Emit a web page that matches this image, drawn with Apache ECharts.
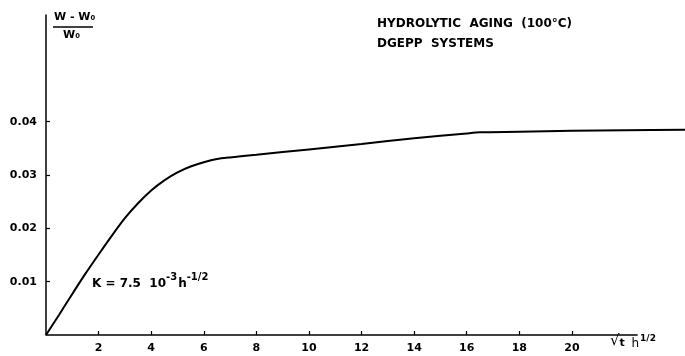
<!DOCTYPE html>
<html><head><meta charset="utf-8">
<script src="https://cdn.jsdelivr.net/npm/echarts@6/dist/echarts.min.js"></script>
<style>html,body{margin:0;padding:0;background:#fff}#c{width:685px;height:356px}</style>
</head><body><div id="c"></div>
<script>
// data
const xValues = [0, 0.5, 1, 1.5, 2, 2.5, 3, 3.5, 4, 4.5, 5, 5.5, 6, 6.5, 7, 8, 10, 12, 14, 16, 16.5, 18, 20, 22, 24.3];
const yValues = [0, 0.0038, 0.0077, 0.0115, 0.0151, 0.0186, 0.0219, 0.0247, 0.0271, 0.0290, 0.0305, 0.0316, 0.0324, 0.0330, 0.0333, 0.0338, 0.0348, 0.0358, 0.0369, 0.0378, 0.0380, 0.0381, 0.0383, 0.0384, 0.0385];
const xTicks = [2, 4, 6, 8, 10, 12, 14, 16, 18, 20];
const yTicks = [0.01, 0.02, 0.03, 0.04];
const xAxisEnd = 22.5;
const titleLines = ['HYDROLYTIC  AGING  (100°C)', 'DGEPP  SYSTEMS'];

const FONT = 'DejaVu Sans';
const chart = echarts.init(document.getElementById('c'), null, {renderer: 'canvas'});
chart.setOption({
  animation: false,
  backgroundColor: '#fff',
  grid: {left: 46, top: 15, right: 0, bottom: 21, containLabel: false},
  xAxis: {
    type: 'value', min: 0, max: 24.3,
    splitLine: {show: false},
    axisLine: {show: false},
    axisTick: {inside: true, length: 4, lineStyle: {color: '#000', width: 1.2}, customValues: xTicks},
    axisLabel: {customValues: xTicks, color: '#000', fontFamily: FONT, fontWeight: 'bold', fontSize: 11, margin: 8}
  },
  yAxis: {
    type: 'value', min: 0, max: 0.06,
    splitLine: {show: false},
    axisLine: {lineStyle: {color: '#000', width: 1.5}},
    axisTick: {inside: true, length: 4, lineStyle: {color: '#000', width: 1.2}, customValues: yTicks},
    axisLabel: {customValues: yTicks, color: '#000', fontFamily: FONT, fontWeight: 'bold', fontSize: 11, margin: 9,
      formatter: v => v.toFixed(2)}
  },
  series: [{
    type: 'line',
    data: xValues.map((x, i) => [x, yValues[i]]),
    showSymbol: false,
    smooth: 0.25,
    clip: false,
    lineStyle: {color: '#000', width: 2},
    markLine: {
      silent: true, symbol: 'none', label: {show: false},
      lineStyle: {color: '#000', width: 1.5, type: 'solid'},
      data: [[{coord: [0, 0]}, {coord: [xAxisEnd, 0]}]]
    }
  }],
  graphic: [
    {type: 'text', left: 54, top: 12, style: {text: 'W - W₀', font: 'bold 11px "DejaVu Sans"', fill: '#000'}},
    {type: 'line', shape: {x1: 53, y1: 27, x2: 93, y2: 27}, style: {stroke: '#000', lineWidth: 1.3}},
    {type: 'text', left: 63, top: 30, style: {text: 'W₀', font: 'bold 11px "DejaVu Sans"', fill: '#000'}},
    {type: 'text', left: 377, top: 18, style: {text: titleLines[0], font: 'bold 12px "DejaVu Sans"', fill: '#000'}},
    {type: 'text', left: 377, top: 38, style: {text: titleLines[1], font: 'bold 12px "DejaVu Sans"', fill: '#000'}},
    {type: 'text', left: 92, top: 272, style: {
      text: '{b|K = 7.5  10}{s|-3}{b|h}{s|-1/2}',
      rich: {
        b: {fontFamily: FONT, fontWeight: 'bold', fontSize: 12, color: '#000', padding: [8, 0, 0, 0]},
        s: {fontFamily: FONT, fontWeight: 'bold', fontSize: 10, color: '#000', padding: [0, 1, 6, 0]}
      }
    }},
    {type: 'text', left: 610, top: 334, style: {
      text: '{r|√}{t|t}  {h|h}{s|1/2}',
      rich: {
        r: {fontFamily: FONT, fontSize: 15, color: '#000'},
        t: {fontFamily: FONT, fontSize: 11, fontWeight: 'bold', color: '#000', padding: [3, 0, 0, 0]},
        h: {fontFamily: FONT, fontSize: 12, color: '#000', padding: [4, 0, 0, 0]},
        s: {fontFamily: FONT, fontSize: 9, fontWeight: 'bold', color: '#000', padding: [0, 0, 6, 1]}
      }
    }}
  ]
});
</script></body></html>
